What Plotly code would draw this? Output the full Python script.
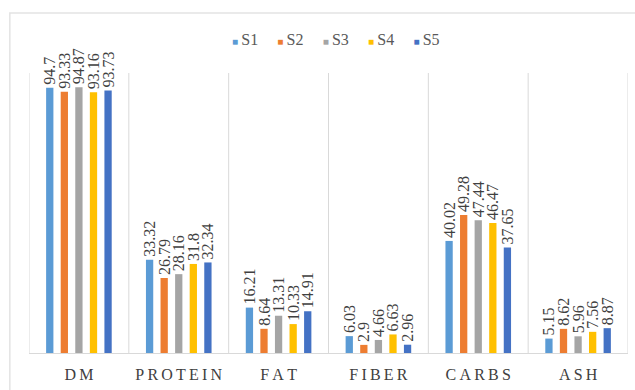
import plotly.graph_objects as go

# Proximate composition per sample
categories = ["DM", "PROTEIN", "FAT", "FIBER", "CARBS", "ASH"]
series_names = ["S1", "S2", "S3", "S4", "S5"]
s1 = [94.7, 33.32, 16.21, 6.03, 40.02, 5.15]
s2 = [93.33, 26.79, 8.64, 2.9, 49.28, 8.62]
s3 = [94.87, 28.16, 13.31, 4.66, 47.44, 5.96]
s4 = [93.16, 31.8, 10.33, 6.63, 46.47, 7.56]
s5 = [93.73, 32.34, 14.91, 2.96, 37.65, 8.87]
series_values = [s1, s2, s3, s4, s5]
colors = ["#5B9BD5", "#ED7D31", "#A5A5A5", "#FFC000", "#4472C4"]

FONT = "Liberation Serif"
TXT = "#404040"

fig = go.Figure()
for name, vals, col in zip(series_names, series_values, colors):
    fig.add_trace(go.Bar(
        name=name,
        x=list(range(len(categories))),
        y=vals,
        marker=dict(color=col, line=dict(width=0)),
        text=[f"{v:g}" for v in vals],
        textposition="outside",
        textangle=-90,
        constraintext="none",
        cliponaxis=False,
        textfont=dict(family=FONT, size=16, color=TXT),
        showlegend=False,
    ))

# compact legend: coloured square glyph followed by the series name
legend_text = "\u2003\u2009".join(
    f"<span style='color:{c};font-size:10px'>\u25a0</span>\u2009{n}"
    for n, c in zip(series_names, colors)
)

# spaced-out category labels
tick_text = ["\u2009".join(c) for c in categories]

# category separators
shapes = []
for i in range(len(categories) + 1):
    shapes.append(dict(type="line", xref="x", yref="y",
                       x0=i - 0.5, x1=i - 0.5, y0=0, y1=100,
                       line=dict(color="#D9D9D9", width=1), layer="below"))
# chart border
shapes.append(dict(type="rect", xref="paper", yref="paper",
                   x0=-0.032, x1=1.2, y0=-0.3, y1=1.214,
                   line=dict(color="#E3E3E3", width=1.5)))

fig.update_layout(
    width=635, height=390,
    margin=dict(l=29, r=7, t=73, b=37),
    paper_bgcolor="white", plot_bgcolor="white",
    barmode="group", bargap=0.27, bargroupgap=0.5,
    font=dict(family=FONT, color=TXT),
    showlegend=False,
    xaxis=dict(range=[-0.5, len(categories) - 0.5], tickmode="array",
               tickvals=list(range(len(categories))), ticktext=tick_text,
               showgrid=False, zeroline=False, showline=False, ticks="",
               ticklabelstandoff=10,
               tickfont=dict(family=FONT, size=16, color=TXT)),
    yaxis=dict(range=[0, 100], showgrid=False, zeroline=True,
               zerolinecolor="#D9D9D9", zerolinewidth=1,
               showticklabels=False, ticks="", showline=False),
    shapes=shapes,
    annotations=[dict(xref="paper", yref="paper", x=0.513, y=1.118,
                      xanchor="center", yanchor="middle", showarrow=False,
                      text=legend_text,
                      font=dict(family=FONT, size=16, color="#595959"))],
)

fig.write_html("out.html")
